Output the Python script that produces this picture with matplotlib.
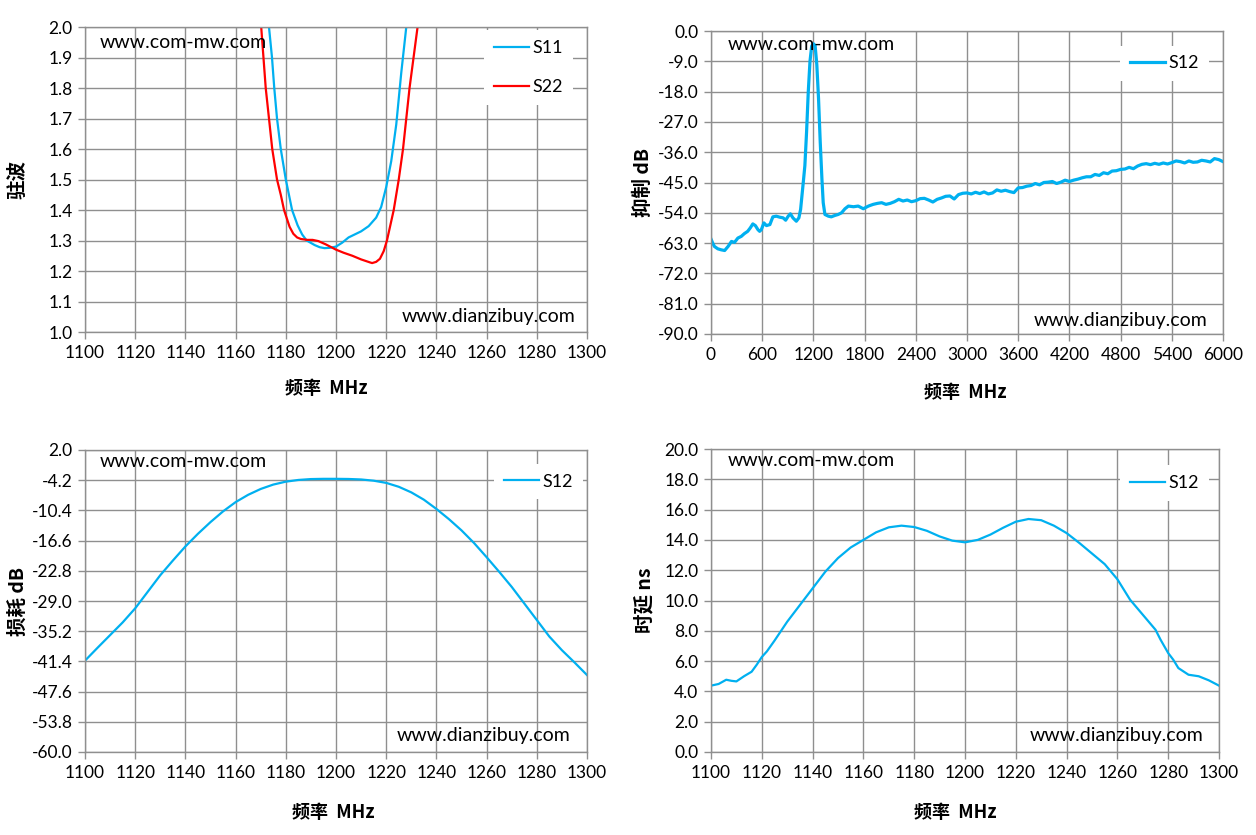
import matplotlib
matplotlib.use("Agg")
import matplotlib.pyplot as plt

# ---------------- data ----------------
vswr_s11_freq = [1172.8, 1173.3, 1174.5, 1175.4, 1176.5, 1178.0, 1180.0, 1182.5, 1184.7, 1186.5,
                 1188.3, 1191.5, 1193.5, 1195.4, 1197.5, 1200.0, 1202.5, 1205.0, 1210.0, 1213.0,
                 1216.0, 1218.0, 1220.0, 1222.0, 1224.0, 1226.0, 1228.0, 1228.6]
vswr_s11 = [2.05, 2.0, 1.9, 1.8, 1.7, 1.6, 1.5, 1.4, 1.35, 1.32,
            1.30, 1.285, 1.278, 1.275, 1.276, 1.28, 1.293, 1.31, 1.33, 1.347,
            1.375, 1.41, 1.475, 1.56, 1.68, 1.85, 2.0, 2.05]

vswr_s22_freq = [1169.8, 1170.2, 1172.0, 1174.6, 1176.5, 1178.0, 1179.3, 1180.5, 1181.5, 1183.0,
                 1184.5, 1186.0, 1188.5, 1190.7, 1193.0, 1196.0, 1200.0, 1203.0, 1206.5, 1210.0,
                 1213.6, 1214.4, 1216.0, 1217.5, 1219.0, 1220.3, 1223.0, 1225.0, 1226.7, 1229.3,
                 1232.5, 1233.0]
vswr_s22 = [2.05, 2.0, 1.8, 1.6, 1.5, 1.45, 1.4, 1.37, 1.345, 1.322,
            1.31, 1.305, 1.302, 1.302, 1.298, 1.287, 1.27, 1.26, 1.25, 1.238,
            1.228, 1.226, 1.23, 1.24, 1.265, 1.3, 1.4, 1.5, 1.6, 1.8,
            2.0, 2.05]

rej_freq = [0, 20, 40, 80, 120, 160, 200, 240, 275, 315, 355, 390, 430, 460, 490, 520, 550, 570, 590,
            620, 650, 690, 725, 765, 805, 845, 875, 905, 930, 960, 1000, 1030, 1050, 1070, 1085,
            1100, 1120, 1140, 1160, 1180, 1200, 1220, 1240, 1260, 1280, 1300, 1315, 1335, 1375,
            1410, 1450, 1490, 1530, 1570, 1610, 1670, 1725, 1785, 1845, 1900, 1950,
            2000, 2050, 2100, 2150, 2200, 2250, 2300, 2350, 2400, 2450, 2500, 2550, 2600, 2650,
            2700, 2750, 2800, 2850, 2900, 2950, 3000, 3050, 3100, 3150, 3200, 3250, 3300, 3350,
            3400, 3450, 3500, 3550, 3600, 3650, 3700, 3750, 3800, 3850, 3900, 3950, 4000, 4050,
            4100, 4150, 4200, 4250, 4300, 4350, 4400, 4450, 4500, 4550, 4600, 4650, 4700, 4750,
            4800, 4850, 4900, 4950, 5000, 5050, 5100, 5150, 5200, 5250, 5300, 5350, 5400, 5450,
            5500, 5550, 5600, 5650, 5700, 5750, 5800, 5850, 5900, 5950, 6000]
rej_db = [-61.8, -63.0, -64.0, -64.7, -65.0, -65.2, -64.0, -62.5, -62.8, -61.5, -61.0, -60.2, -59.5,
          -58.5, -57.3, -57.8, -59.0, -59.5, -59.0, -57.0, -57.8, -57.5, -55.2, -55.0, -55.3, -55.5,
          -56.2, -55.0, -54.3, -55.5, -56.5, -55.5, -53.0, -48.0, -44.0,
          -40.0, -30.0, -18.0, -9.0, -4.5, -3.8, -4.3, -10.0, -20.0, -33.0, -44.0, -51.0, -54.5,
          -55.0, -55.2, -54.8, -54.5, -54.0, -52.8, -52.0, -52.2, -52.0, -52.8, -52.0, -51.5, -51.2,
          -51.0, -51.5, -51.2, -50.7, -50.0, -50.5, -50.2, -50.7, -50.4, -49.8, -49.7, -50.2, -50.8,
          -50.0, -49.6, -49.1, -49.0, -49.9, -48.6, -48.2, -48.1, -48.4, -47.9, -48.3, -47.8, -48.4,
          -48.1, -47.2, -47.6, -47.3, -47.7, -48.0, -46.6, -46.5, -46.1, -45.9, -45.3, -45.7, -45.0,
          -44.9, -44.7, -45.3, -44.9, -44.3, -44.7, -44.3, -44.0, -43.6, -43.3, -43.3, -42.6, -42.9,
          -42.1, -42.4, -41.6, -41.5, -41.1, -41.0, -40.5, -40.9, -40.1, -39.6, -39.4, -39.7, -39.3,
          -39.6, -39.2, -39.5, -39.1, -38.6, -38.8, -39.2, -38.6, -39.0, -38.9, -38.4, -38.6, -38.9,
          -37.9, -38.2, -38.8]

loss_freq = [1100, 1105, 1110, 1115, 1120, 1125, 1130, 1135, 1140, 1145, 1150, 1155, 1160, 1165,
             1170, 1175, 1180, 1185, 1190, 1195, 1200, 1205, 1210, 1215, 1220, 1225, 1230, 1235,
             1240, 1245, 1250, 1255, 1260, 1265, 1270, 1275, 1280, 1285, 1290, 1295, 1300]
loss_db = [-41.25, -38.6, -36.0, -33.4, -30.5, -27.1, -23.7, -20.7, -17.8, -15.2, -12.8, -10.6,
           -8.7, -7.2, -6.0, -5.1, -4.5, -4.15, -3.97, -3.92, -3.92, -3.95, -4.05, -4.3, -4.75,
           -5.55, -6.7, -8.2, -10.1, -12.2, -14.5, -17.1, -20.0, -23.0, -26.1, -29.5, -32.9,
           -36.3, -39.1, -41.6, -44.2]

delay_freq = [1100, 1103, 1106, 1108, 1110, 1113, 1116, 1118, 1120, 1122, 1125, 1130, 1135, 1140,
              1145, 1150, 1155, 1160, 1165, 1170, 1175, 1180, 1185, 1190, 1195, 1200, 1205, 1210,
              1215, 1220, 1225, 1230, 1235, 1240, 1245, 1250, 1255, 1260, 1265, 1270, 1275, 1277,
              1280, 1282, 1284, 1286, 1288, 1292, 1296, 1300]
delay_ns = [4.38, 4.49, 4.77, 4.70, 4.66, 5.0, 5.3, 5.76, 6.27, 6.64, 7.35, 8.6, 9.7, 10.8,
            11.9, 12.8, 13.5, 14.0, 14.5, 14.83, 14.94, 14.85, 14.6, 14.23, 13.95, 13.84, 14.0, 14.35,
            14.8, 15.2, 15.38, 15.3, 14.94, 14.45, 13.8, 13.1, 12.4, 11.4, 10.05, 9.06, 8.07, 7.41,
            6.53, 6.09, 5.54, 5.32, 5.1, 5.0, 4.73, 4.38]

x_ticks_narrow = [1100, 1120, 1140, 1160, 1180, 1200, 1220, 1240, 1260, 1280, 1300]
x_ticks_wide = [0, 600, 1200, 1800, 2400, 3000, 3600, 4200, 4800, 5400, 6000]
vswr_ticks = [1.0, 1.1, 1.2, 1.3, 1.4, 1.5, 1.6, 1.7, 1.8, 1.9, 2.0]
rej_ticks = [0.0, -9.0, -18.0, -27.0, -36.0, -45.0, -54.0, -63.0, -72.0, -81.0, -90.0]
loss_ticks = [2.0, -4.2, -10.4, -16.6, -22.8, -29.0, -35.2, -41.4, -47.6, -53.8, -60.0]
delay_ticks = [0.0, 2.0, 4.0, 6.0, 8.0, 10.0, 12.0, 14.0, 16.0, 18.0, 20.0]

# ---------------- style ----------------
BLUE = "#00B0F0"
RED = "#FF0000"
GRID = "#8f8f8f"
TICKFONT = ["Lato", "DejaVu Sans"]
CJK = ["Noto Sans CJK SC", "DejaVu Sans"]
TS = 12.5

fig = plt.figure(figsize=(12.56, 8.35), dpi=100)
fig.patch.set_facecolor("white")

W, H = 1256.0, 835.0


def make_ax(l, r, t, b):
    return fig.add_axes([l / W, 1 - b / H, (r - l) / W, (b - t) / H])


def style(ax, xlim, xticks, ylim, yticks, ylabel, ylab_off, xlab_pos, wm1, wm2, leg_tr):
    ax.set_xlim(*xlim)
    ax.set_ylim(*ylim)
    ax.set_xticks(xticks)
    ax.set_yticks(yticks)
    ax.set_xticklabels([str(v) for v in xticks], fontfamily=TICKFONT, fontsize=TS)
    ax.set_yticklabels(["%.1f" % v for v in yticks], fontfamily=TICKFONT, fontsize=TS)
    ax.grid(True, color=GRID, linewidth=1.0)
    ax.set_axisbelow(True)
    for s in ax.spines.values():
        s.set_color(GRID)
        s.set_linewidth(1.0)
    ax.tick_params(axis="both", which="major", direction="out", length=5, width=1.0,
                   color=GRID, pad=4, labelcolor="black")
    ax.text(ylab_off, 0.5, ylabel, transform=ax.transAxes, rotation=90, ha="center", va="center",
            fontsize=14, fontweight="bold", family=CJK)
    ax.text(xlab_pos[0], xlab_pos[1], "频率  MHz", transform=ax.transAxes, ha="center", va="center",
            fontsize=13, fontweight="bold", family=CJK)
    ax.text(wm1[0], wm1[1], "www.com-mw.com", transform=ax.transAxes, ha="left", va="center",
            fontsize=14, family=TICKFONT, zorder=5)
    ax.text(wm2[0], wm2[1], "www.dianzibuy.com", transform=ax.transAxes, ha="right", va="center",
            fontsize=14, family=TICKFONT, zorder=5)
    leg = ax.legend(loc="upper right", bbox_to_anchor=leg_tr, borderaxespad=0,
                    frameon=True, fancybox=False, framealpha=1, facecolor="white",
                    edgecolor="white", handlelength=1.95, handletextpad=0.2,
                    borderpad=0.55, labelspacing=1.3,
                    prop={"family": TICKFONT, "size": 13})
    leg.get_frame().set_linewidth(0)
    leg.set_zorder(6)


# Top-left: VSWR
ax1 = make_ax(85, 587, 27, 332)
ax1.plot(vswr_s11_freq, vswr_s11, color=BLUE, lw=1.6, label="S11")
ax1.plot(vswr_s22_freq, vswr_s22, color=RED, lw=1.6, label="S22")
style(ax1, (1100, 1300), x_ticks_narrow, (1.0, 2.0), vswr_ticks, "驻波", -67 / 502,
      (0.48, -56 / 305), (0.03, 0.95), (0.976, 0.05), (0.972, 0.99))

# Top-right: rejection
ax2 = make_ax(711, 1223, 31, 334)
ax2.plot(rej_freq, rej_db, color=BLUE, lw=2.3, label="S12")
style(ax2, (0, 6000), x_ticks_wide, (-90, 0), rej_ticks, "抑制 dB", -68 / 512,
      (0.496, -58 / 303), (0.033, 0.954), (0.97, 0.043), (0.973, 0.952))

# Bottom-left: insertion loss
ax3 = make_ax(85, 587, 450, 752)
ax3.plot(loss_freq, loss_db, color=BLUE, lw=1.6, label="S12")
style(ax3, (1100, 1300), x_ticks_narrow, (-60, 2), loss_ticks, "损耗 dB", -67 / 502,
      (0.494, -60 / 302), (0.03, 0.962), (0.966, 0.053), (0.992, 0.955))

# Bottom-right: group delay
ax4 = make_ax(711, 1219, 449, 752)
ax4.plot(delay_freq, delay_ns, color=BLUE, lw=1.6, label="S12")
style(ax4, (1100, 1300), x_ticks_narrow, (0, 20), delay_ticks, "时延 ns", -66 / 508,
      (0.48, -61 / 303), (0.033, 0.962), (0.97, 0.053), (0.98, 0.946))

fig.savefig("out.png", dpi=100, facecolor="white")
